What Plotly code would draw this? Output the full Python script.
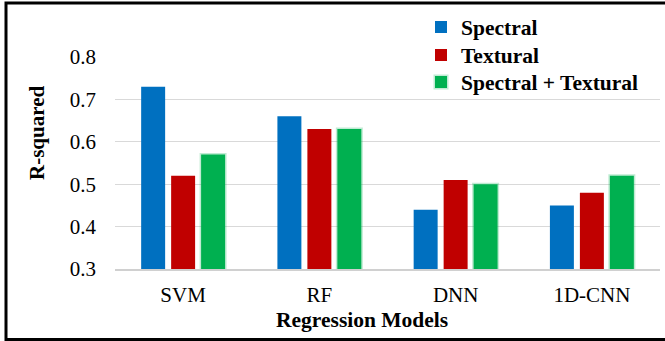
import plotly.graph_objects as go

models = ["SVM", "RF", "DNN", "1D-CNN"]
spectral = [0.73, 0.66, 0.44, 0.45]
textural = [0.52, 0.63, 0.51, 0.48]
spec_text = [0.57, 0.63, 0.50, 0.52]
y_ticks = [0.3, 0.4, 0.5, 0.6, 0.7, 0.8]
y_tick_labels = ["0.3", "0.4", "0.5", "0.6", "0.7", "0.8"]

W, H = 665, 341
L, R, T, B = 115, 660, 57, 269


def px(x):
    return (x - L) / (R - L)


def py(y):
    return (B - y) / (B - T)


FONT = "Liberation Serif, Times New Roman, serif"

fig = go.Figure()
fig.add_trace(go.Bar(name="Spectral", x=models, y=spectral, marker_color="#0070C0",
                     marker_line_width=0, legend="legend"))
fig.add_trace(go.Bar(name="Textural", x=models, y=textural, marker_color="#C00000",
                     marker_line_width=0, legend="legend2"))
fig.add_trace(go.Bar(name="Spectral + Textural", x=models, y=spec_text, marker_color="#00B050",
                     marker_line=dict(color="rgba(0,176,80,0.25)", width=3), legend="legend3"))

leg_font = dict(family=FONT, size=21.5, color="black", weight="bold")


def leg(ycenter):
    return dict(x=px(421), y=py(ycenter), xanchor="left", yanchor="middle",
                bgcolor="rgba(0,0,0,0)", font=leg_font, itemwidth=30)


fig.update_layout(
    width=W, height=H,
    margin=dict(l=L, r=W - R, t=T, b=H - B, pad=0),
    paper_bgcolor="white", plot_bgcolor="white",
    barmode="group", bargap=0.34, bargroupgap=0.2,
    font=dict(family=FONT, size=21, color="black"),
    showlegend=True,
    legend=leg(27), legend2=leg(55), legend3=leg(82),
    xaxis=dict(showgrid=False, showline=True, linecolor="#d0d0d0", linewidth=2,
               ticks="", tickfont=dict(size=21), ticklabelstandoff=6, fixedrange=True),
    yaxis=dict(range=[0.3, 0.8], tickvals=y_ticks, ticktext=y_tick_labels,
               showgrid=True, gridcolor="#d9d9d9", gridwidth=1, zeroline=False,
               showline=False, ticks="", tickfont=dict(size=21), ticklabelstandoff=18),
    annotations=[
        dict(text="<b>R-squared</b>", x=px(37), y=py(133), xref="paper", yref="paper",
             xanchor="center", yanchor="middle",
             textangle=-90, showarrow=False, font=dict(size=21, family=FONT)),
        dict(text="<b>Regression Models</b>", x=px(362), y=py(320), xref="paper", yref="paper",
             xanchor="center", yanchor="middle",
             showarrow=False, font=dict(size=21.5, family=FONT)),
    ],
    shapes=[
        dict(type="rect", xref="paper", yref="paper", x0=px(6), x1=px(672), y0=py(3), y1=py(339.5),
             line=dict(color="black", width=3), fillcolor="rgba(0,0,0,0)", layer="above"),
    ],
)

fig.write_html("out.html")
